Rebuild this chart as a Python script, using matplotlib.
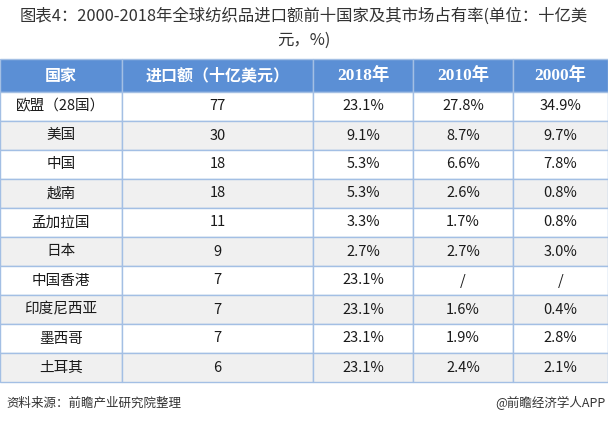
import matplotlib.pyplot as plt

plt.rcParams['font.family'] = ['Noto Sans CJK SC', 'DejaVu Sans']

title = "图表4：2000-2018年全球纺织品进口额前十国家及其市场占有率(单位：十亿美\n元，%)"
columns = ["国家", "进口额（十亿美元）", "2018年", "2010年", "2000年"]
countries = ["欧盟（28国）", "美国", "中国", "越南", "孟加拉国", "日本",
             "中国香港", "印度尼西亚", "墨西哥", "土耳其"]
imports = [77, 30, 18, 18, 11, 9, 7, 7, 7, 6]
share_2018 = ["23.1%", "9.1%", "5.3%", "5.3%", "3.3%", "2.7%", "23.1%", "23.1%", "23.1%", "23.1%"]
share_2010 = ["27.8%", "8.7%", "6.6%", "2.6%", "1.7%", "2.7%", "/", "1.6%", "1.9%", "2.4%"]
share_2000 = ["34.9%", "9.7%", "7.8%", "0.8%", "0.8%", "3.0%", "/", "0.4%", "2.8%", "2.1%"]
source = "资料来源：前瞻产业研究院整理"
brand = "@前瞻经济学人APP"

W, H = 608, 424
fig = plt.figure(figsize=(W / 100, H / 100), dpi=100)
ax = fig.add_axes([0, 0, 1, 1])
ax.set_axis_off()

header_blue = "#5b8fd5"
line_blue = "#a3bfe4"
grey = "#f0f0f0"

rows = [[c, str(v), a, b, d] for c, v, a, b, d in
        zip(countries, imports, share_2018, share_2010, share_2000)]

col_px = [122, 191, 100, 100, 95]
top, head_h, row_h = 59, 33, 29
bottom = top + head_h + row_h * len(rows)

tbl = ax.table(cellText=rows, colLabels=columns, cellLoc='center',
               colWidths=[c / W for c in col_px],
               bbox=[0, 1 - bottom / H, 1, (bottom - top) / H])
tbl.auto_set_font_size(False)

for (r, c), cell in tbl.get_celld().items():
    cell.set_edgecolor(line_blue)
    cell.set_linewidth(1.0)
    txt = cell.get_text()
    if r == 0:
        cell.set_height(head_h / H)
        cell.set_facecolor(header_blue)
        txt.set_color("white")
        txt.set_fontweight("bold")
        txt.set_fontsize(11.5)
        if c >= 2:
            txt.set_fontfamily(['Liberation Serif', 'Noto Sans CJK SC'])
            txt.set_fontsize(12.5)
    else:
        cell.set_height(row_h / H)
        cell.set_facecolor(grey if r % 2 == 0 else "white")
        txt.set_color("#1a1a1a")
        txt.set_fontsize(10.5)

fig.text(0.5, 1 - 28 / H, title, ha='center', va='center', fontsize=11.8,
         color="#333333", linespacing=1.5)
fig.text(6 / W, 1 - 403 / H, source, ha='left', va='center', fontsize=9, color="#333333")
fig.text(1 - 2 / W, 1 - 403 / H, brand, ha='right', va='center', fontsize=9, color="#333333")

fig.savefig("out.png", dpi=100)
